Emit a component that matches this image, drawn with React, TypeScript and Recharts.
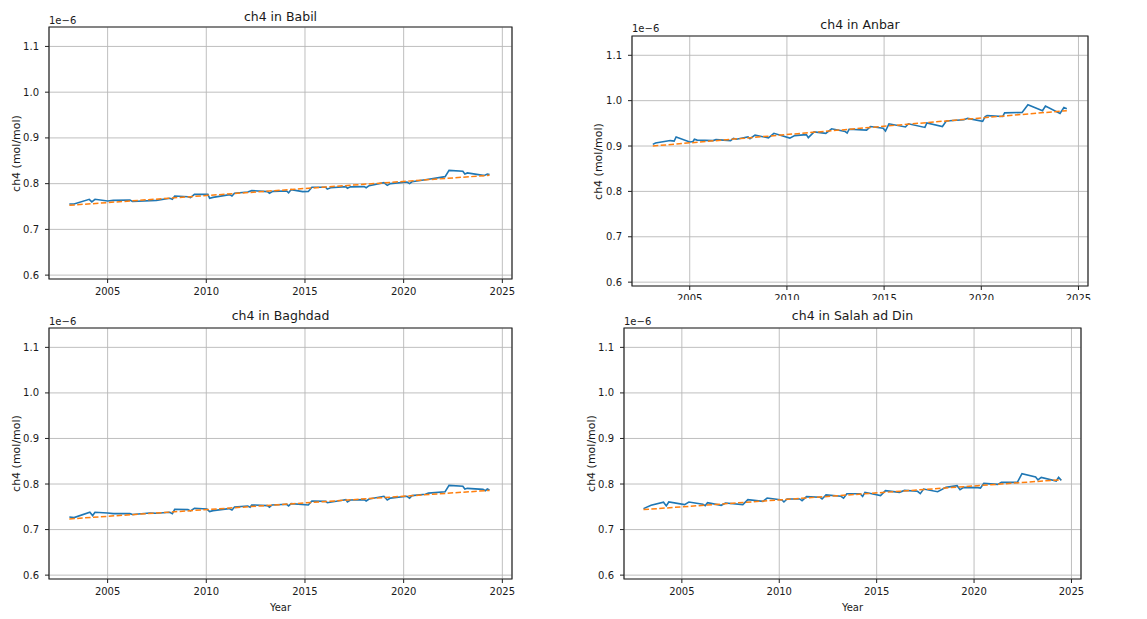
import React from 'react';
import { LineChart, Line, XAxis, YAxis, CartesianGrid, ReferenceArea } from 'recharts';

// Values are ch4 in units of 1e-6 mol/mol
const xTicks = [2005, 2010, 2015, 2020, 2025];
const yTicks = [0.6, 0.7, 0.8, 0.9, 1.0, 1.1];
const X_MIN = 2002.03;
const X_MAX = 2025.49;
const Y_MIN = 0.5915;
const Y_MAX = 1.1425;

const babilYears = [2003.06, 2003.3, 2004.07, 2004.2, 2004.36, 2005.0, 2005.29, 2006.13, 2006.26, 2007.47, 2008.15, 2008.28, 2008.4, 2009.07, 2009.2, 2009.4, 2010.08, 2010.17, 2010.34, 2011.18, 2011.3, 2011.43, 2012.1, 2012.3, 2013.1, 2013.2, 2013.37, 2014.07, 2014.17, 2014.3, 2014.88, 2015.17, 2015.35, 2016.05, 2016.13, 2016.3, 2017.07, 2017.15, 2017.3, 2018.0, 2018.1, 2018.25, 2019.0, 2019.17, 2019.33, 2020.17, 2020.3, 2020.42, 2021.26, 2022.1, 2022.3, 2023.0, 2023.1, 2023.23, 2024.02, 2024.14, 2024.24, 2024.35];
const babilCh4 = [0.7555, 0.7555, 0.7657, 0.760, 0.7657, 0.762, 0.7635, 0.7642, 0.761, 0.7635, 0.768, 0.766, 0.773, 0.7715, 0.7695, 0.7766, 0.7766, 0.768, 0.770, 0.776, 0.773, 0.779, 0.7818, 0.7847, 0.7825, 0.779, 0.783, 0.784, 0.780, 0.787, 0.7825, 0.783, 0.792, 0.792, 0.788, 0.791, 0.7934, 0.790, 0.793, 0.7934, 0.791, 0.7956, 0.802, 0.7963, 0.800, 0.8036, 0.800, 0.804, 0.8095, 0.8153, 0.829, 0.827, 0.821, 0.8234, 0.818, 0.819, 0.821, 0.8197];
const babilTrendYears = [2003.06, 2024.35];
const babilTrend = [0.7526, 0.8182];

const anbarYears = [2003.1, 2003.24, 2004.0, 2004.2, 2004.3, 2005.0, 2005.17, 2005.24, 2005.38, 2006.2, 2006.35, 2007.1, 2007.25, 2007.4, 2008.0, 2008.1, 2008.36, 2009.05, 2009.33, 2010.15, 2010.4, 2011.0, 2011.1, 2011.4, 2012.0, 2012.3, 2013.0, 2013.1, 2013.2, 2014.1, 2014.3, 2014.95, 2015.07, 2015.25, 2016.1, 2016.25, 2017.1, 2017.2, 2018.0, 2018.2, 2019.1, 2019.3, 2020.07, 2020.2, 2020.3, 2021.1, 2021.2, 2022.1, 2022.4, 2023.15, 2023.3, 2024.05, 2024.25, 2024.4];
const anbarCh4 = [0.9036, 0.9066, 0.912, 0.911, 0.920, 0.909, 0.910, 0.915, 0.913, 0.912, 0.914, 0.912, 0.917, 0.915, 0.920, 0.916, 0.924, 0.918, 0.928, 0.9175, 0.923, 0.925, 0.9185, 0.931, 0.928, 0.938, 0.932, 0.9285, 0.937, 0.935, 0.943, 0.939, 0.933, 0.949, 0.942, 0.949, 0.941, 0.951, 0.943, 0.955, 0.958, 0.961, 0.9545, 0.965, 0.967, 0.965, 0.973, 0.974, 0.991, 0.978, 0.988, 0.972, 0.985, 0.982];
const anbarTrendYears = [2003.1, 2024.4];
const anbarTrend = [0.900, 0.978];

const baghdadYears = [2003.06, 2003.3, 2004.1, 2004.24, 2004.36, 2005.0, 2005.29, 2006.13, 2006.26, 2007.14, 2007.47, 2008.15, 2008.28, 2008.4, 2009.07, 2009.2, 2009.4, 2010.03, 2010.17, 2010.34, 2011.15, 2011.3, 2011.43, 2012.1, 2012.22, 2012.3, 2013.1, 2013.2, 2013.33, 2014.07, 2014.17, 2014.3, 2015.17, 2015.35, 2016.05, 2016.13, 2016.9, 2017.07, 2017.15, 2017.3, 2018.0, 2018.1, 2018.25, 2019.0, 2019.17, 2019.33, 2020.17, 2020.3, 2020.42, 2021.1, 2021.26, 2022.1, 2022.3, 2023.0, 2023.1, 2023.23, 2024.02, 2024.14, 2024.24, 2024.35];
const baghdadCh4 = [0.7277, 0.7263, 0.738, 0.7307, 0.738, 0.7365, 0.735, 0.735, 0.733, 0.7365, 0.7357, 0.738, 0.735, 0.7445, 0.7438, 0.741, 0.7467, 0.745, 0.7394, 0.7416, 0.746, 0.743, 0.7496, 0.7518, 0.749, 0.754, 0.7526, 0.749, 0.754, 0.7555, 0.752, 0.757, 0.754, 0.7628, 0.762, 0.759, 0.7642, 0.7657, 0.7606, 0.765, 0.7657, 0.7628, 0.767, 0.773, 0.765, 0.769, 0.773, 0.769, 0.7745, 0.7774, 0.780, 0.783, 0.797, 0.795, 0.789, 0.7905, 0.7883, 0.7854, 0.789, 0.787];
const baghdadTrendYears = [2003.06, 2024.35];
const baghdadTrend = [0.7234, 0.786];

const salahYears = [2003.03, 2003.42, 2004.06, 2004.2, 2004.33, 2005.14, 2005.36, 2006.08, 2006.2, 2006.32, 2007.02, 2007.24, 2008.13, 2008.39, 2009.16, 2009.38, 2010.14, 2010.24, 2010.4, 2011.05, 2011.17, 2011.4, 2012.1, 2012.2, 2012.4, 2013.17, 2013.3, 2013.47, 2014.15, 2014.28, 2014.4, 2015.2, 2015.45, 2016.17, 2016.43, 2017.1, 2017.24, 2017.41, 2018.13, 2018.56, 2019.13, 2019.28, 2019.47, 2020.2, 2020.33, 2020.5, 2021.22, 2021.4, 2022.22, 2022.46, 2023.16, 2023.28, 2023.45, 2024.22, 2024.34, 2024.48];
const salahCh4 = [0.746, 0.7533, 0.760, 0.752, 0.7606, 0.7547, 0.7606, 0.7555, 0.7526, 0.759, 0.7533, 0.7584, 0.7547, 0.7657, 0.762, 0.7693, 0.765, 0.7606, 0.7672, 0.7672, 0.7635, 0.7723, 0.7708, 0.7672, 0.776, 0.773, 0.769, 0.7788, 0.7788, 0.773, 0.7818, 0.7745, 0.7854, 0.7818, 0.786, 0.784, 0.7788, 0.789, 0.783, 0.7927, 0.7964, 0.7876, 0.7927, 0.792, 0.7912, 0.8015, 0.7993, 0.8036, 0.8036, 0.8226, 0.8153, 0.809, 0.8146, 0.8066, 0.8146, 0.808];
const salahTrendYears = [2003.03, 2024.48];
const salahTrend = [0.7438, 0.8095];

const FONT = '"DejaVu Sans", "Liberation Sans", sans-serif';
const TXT = '#1a1a1a';

const zip = (xs: number[], ys: number[]) => xs.map((x, i) => ({ x, y: ys[i] }));

type PanelProps = {
  left: number; top: number; width: number; height: number;
  yAxisWidth: number; marginTop: number; marginRight: number; xAxisHeight: number;
  years: number[]; values: number[]; trendYears: number[]; trendValues: number[];
  title: string; titleTop: number; offsetTop: number; ylabelX: number; yearTop?: number;
};

function Panel(p: PanelProps) {
  const plotLeft = p.left + p.yAxisWidth;
  const plotTop = p.top + p.marginTop;
  const plotRight = p.left + p.width - p.marginRight;
  const plotBottom = p.top + p.height - p.xAxisHeight;
  const plotW = plotRight - plotLeft;
  const cy = (plotTop + plotBottom) / 2;
  const series = zip(p.years, p.values);
  const trend = zip(p.trendYears, p.trendValues);
  return (
    <>
      <div style={{ position: 'absolute', left: p.left, top: p.top, width: p.width, height: p.height, overflow: 'hidden' }}>
        <LineChart width={p.width} height={p.height} margin={{ top: p.marginTop, right: p.marginRight, bottom: 0, left: 0 }}>
          <CartesianGrid stroke="#b8b8b8" strokeWidth={0.9} />
          <XAxis
            type="number" dataKey="x" domain={[X_MIN, X_MAX]} allowDataOverflow ticks={xTicks} interval={0}
            height={p.xAxisHeight} tickSize={4} tickMargin={5} axisLine={false}
            tickLine={{ stroke: '#222' }} tick={{ fontSize: 10, fill: TXT, fontFamily: FONT }}
          />
          <YAxis
            type="number" domain={[Y_MIN, Y_MAX]} allowDataOverflow ticks={yTicks} interval={0}
            width={p.yAxisWidth} tickSize={4} tickMargin={6} axisLine={false}
            tickLine={{ stroke: '#222' }} tick={{ fontSize: 10, fill: TXT, fontFamily: FONT }}
            tickFormatter={(v: number) => v.toFixed(1)}
          />
          <Line data={series} dataKey="y" type="linear" stroke="#1f77b4" strokeWidth={1.6} dot={false} activeDot={false} isAnimationActive={false} />
          <Line data={trend} dataKey="y" type="linear" stroke="#ff7f0e" strokeWidth={1.5} strokeDasharray="5.5 2.4" dot={false} activeDot={false} isAnimationActive={false} />
          <ReferenceArea x1={X_MIN} x2={X_MAX} y1={Y_MIN} y2={Y_MAX} fill="none" fillOpacity={0} stroke="#2a2a2a" strokeWidth={1.2} ifOverflow="visible" />
        </LineChart>
      </div>
      <div style={{ position: 'absolute', left: plotLeft, top: p.titleTop, width: plotW, textAlign: 'center', fontFamily: FONT, fontSize: 12.5, lineHeight: '12px', color: TXT, whiteSpace: 'nowrap' }}>{p.title}</div>
      <div style={{ position: 'absolute', left: plotLeft, top: p.offsetTop, fontFamily: FONT, fontSize: 10, lineHeight: '10px', color: TXT, whiteSpace: 'nowrap' }}>1e−6</div>
      <div style={{ position: 'absolute', left: p.ylabelX - 100, top: cy - 5.5, width: 200, height: 11, textAlign: 'center', fontFamily: FONT, fontSize: 11, lineHeight: '11px', color: TXT, transform: 'rotate(-90deg)', whiteSpace: 'nowrap' }}>ch4 (mol/mol)</div>
      {p.yearTop !== undefined && (
        <div style={{ position: 'absolute', left: plotLeft, top: p.yearTop, width: plotW, textAlign: 'center', fontFamily: FONT, fontSize: 10, lineHeight: '10px', color: TXT }}>Year</div>
      )}
    </>
  );
}

export default function App() {
  return (
    <div style={{ position: 'absolute', left: 0, top: 0, width: 1147, height: 619, background: '#fff', overflow: 'hidden' }}>
      <Panel left={0} top={0} width={520} height={300} yAxisWidth={49} marginTop={27} marginRight={8} xAxisHeight={21}
        years={babilYears} values={babilCh4} trendYears={babilTrendYears} trendValues={babilTrend}
        title="ch4 in Babil" titleTop={11} offsetTop={15.5} ylabelX={16} />
      <Panel left={580} top={0} width={520} height={300} yAxisWidth={52} marginTop={36} marginRight={12} xAxisHeight={14}
        years={anbarYears} values={anbarCh4} trendYears={anbarTrendYears} trendValues={anbarTrend}
        title="ch4 in Anbar" titleTop={19} offsetTop={24} ylabelX={598} />
      <Panel left={0} top={300} width={520} height={319} yAxisWidth={49} marginTop={28} marginRight={8} xAxisHeight={40}
        years={baghdadYears} values={baghdadCh4} trendYears={baghdadTrendYears} trendValues={baghdadTrend}
        title="ch4 in Baghdad" titleTop={310} offsetTop={316.5} ylabelX={16} yearTop={602.5} />
      <Panel left={580} top={300} width={520} height={319} yAxisWidth={44} marginTop={28} marginRight={19} xAxisHeight={40}
        years={salahYears} values={salahCh4} trendYears={salahTrendYears} trendValues={salahTrend}
        title="ch4 in Salah ad Din" titleTop={310} offsetTop={316.5} ylabelX={590.5} yearTop={602.5} />
    </div>
  );
}
